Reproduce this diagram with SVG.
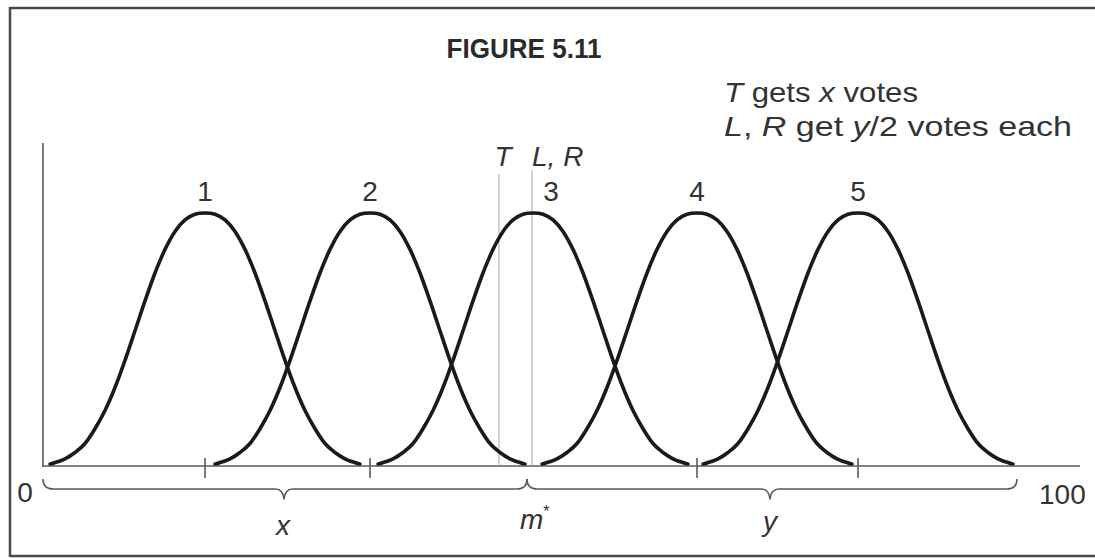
<svg xmlns="http://www.w3.org/2000/svg" xmlns:xlink="http://www.w3.org/1999/xlink" width="1095" height="559" viewBox="0 0 1095 559">
<style>
.frame{stroke:#4a4a4a;stroke-width:2.5;fill:none}
.axis{stroke:#5a5a5a;stroke-width:1.6;fill:none}
.thin{stroke:#a8a8a8;stroke-width:1;fill:none}
.bell{stroke:#1a1a1a;stroke-width:3.6;fill:none;stroke-linecap:round;stroke-linejoin:round}
.brace{stroke:#5a5a5a;stroke-width:1.6;fill:none;stroke-linejoin:round}
text{font-family:"Liberation Sans",Arial,Helvetica,sans-serif;fill:#333}
.lbl{font-size:28px;text-anchor:middle}
.note{font-size:28px}
.it{font-style:italic}
</style>
<defs>
<path id="bell" d="M -155,0 C -153.33,0 -151.67,-0.8 -150,-1.5 C -146.67,-2.2 -143.33,-3.53 -140,-5.2 C -136.67,-6.87 -133.33,-8.95 -130,-11.5 C -126.67,-14.05 -123.33,-16.53 -120,-20.5 C -116.67,-24.47 -113.33,-29.8 -110,-35.3 C -106.67,-40.8 -103.33,-46.63 -100,-53.5 C -96.67,-60.37 -93.33,-68.15 -90,-76.5 C -86.67,-84.85 -83.33,-94.15 -80,-103.6 C -76.67,-113.05 -73.33,-123.28 -70,-133.2 C -66.67,-143.12 -63.33,-153.47 -60,-163.1 C -56.67,-172.73 -53.33,-182.42 -50,-191 C -46.67,-199.58 -43.33,-207.67 -40,-214.6 C -36.67,-221.53 -33.33,-227.68 -30,-232.6 C -26.67,-237.52 -23.33,-241.23 -20,-244.1 C -16.67,-246.97 -13.33,-248.65 -10,-249.8 C -6.67,-250.95 -3.33,-251 0,-251 C 3.33,-251 6.67,-250.95 10,-249.8 C 13.33,-248.65 16.67,-246.97 20,-244.1 C 23.33,-241.23 26.67,-237.52 30,-232.6 C 33.33,-227.68 36.67,-221.53 40,-214.6 C 43.33,-207.67 46.67,-199.58 50,-191 C 53.33,-182.42 56.67,-172.73 60,-163.1 C 63.33,-153.47 66.67,-143.12 70,-133.2 C 73.33,-123.28 76.67,-113.05 80,-103.6 C 83.33,-94.15 86.67,-84.85 90,-76.5 C 93.33,-68.15 96.67,-60.37 100,-53.5 C 103.33,-46.63 106.67,-40.8 110,-35.3 C 113.33,-29.8 116.67,-24.47 120,-20.5 C 123.33,-16.53 126.67,-14.05 130,-11.5 C 133.33,-8.95 136.67,-6.87 140,-5.2 C 143.33,-3.53 146.67,-2.2 150,-1.5 C 151.67,-0.8 153.33,0 155,0"/>
</defs>

<g id="frame">
<line class="frame" x1="10" y1="8" x2="1095" y2="8"/>
<line class="frame" x1="10" y1="7" x2="10" y2="557"/>
<line class="frame" x1="10" y1="556" x2="1095" y2="556"/>
</g>

<g id="title">
<text x="524" y="58" font-size="27" font-weight="bold" text-anchor="middle" textLength="155" lengthAdjust="spacingAndGlyphs" style="fill:#2a2a2a">FIGURE 5.11</text>
<text class="note" x="724" y="102" textLength="194" lengthAdjust="spacingAndGlyphs"><tspan class="it">T</tspan> gets <tspan class="it">x</tspan> votes</text>
<text class="note" x="724" y="136" textLength="348" lengthAdjust="spacingAndGlyphs"><tspan class="it">L</tspan>, <tspan class="it">R</tspan> get <tspan class="it">y</tspan>/2 votes each</text>
</g>

<g id="axes">
<line class="axis" x1="43" y1="143" x2="43" y2="467"/>
<line class="axis" x1="42" y1="466" x2="1080" y2="466"/>
<line class="axis" x1="205" y1="458" x2="205" y2="478"/>
<line class="axis" x1="370" y1="458" x2="370" y2="478"/>
<line class="axis" x1="697" y1="458" x2="697" y2="478"/>
<line class="axis" x1="858" y1="458" x2="858" y2="478"/>
<text class="lbl" x="25" y="502">0</text>
<text x="1039" y="504" font-size="28">100</text>
</g>

<g id="positions">
<line class="thin" x1="499" y1="174" x2="499" y2="466"/>
<line class="thin" x1="532" y1="170" x2="532" y2="466"/>
<text class="lbl it" x="503" y="166">T</text>
<text class="it" x="532" y="166" font-size="28">L, R</text>
</g>

<g id="curve1">
<use xlink:href="#bell" href="#bell" class="bell" transform="translate(205,464)"/>
<text class="lbl" x="205" y="201">1</text>
</g>
<g id="curve2">
<use xlink:href="#bell" href="#bell" class="bell" transform="translate(370,464)"/>
<text class="lbl" x="370" y="201">2</text>
</g>
<g id="curve3">
<use xlink:href="#bell" href="#bell" class="bell" transform="translate(533,464)"/>
<text class="lbl" x="551" y="201">3</text>
</g>
<g id="curve4">
<use xlink:href="#bell" href="#bell" class="bell" transform="translate(697,464)"/>
<text class="lbl" x="697" y="201">4</text>
</g>
<g id="curve5">
<use xlink:href="#bell" href="#bell" class="bell" transform="translate(858,464)"/>
<text class="lbl" x="858" y="201">5</text>
</g>

<g id="connectors">
<path class="brace" d="M 43,479 Q 43,489 53,489 L 275,489 Q 283,489 284,499 Q 285,489 293,489 L 517,489 Q 527,489 527,479"/>
<path class="brace" d="M 527,479 Q 527,489 537,489 L 761,489 Q 769,489 770,499 Q 771,489 779,489 L 1007,489 Q 1017,489 1017,479"/>
</g>

<g id="brace-labels">
<text class="lbl it" x="283" y="535">x</text>
<text class="it" x="520" y="529" font-size="28">m<tspan font-size="16" dy="-12" font-style="normal">*</tspan></text>
<text class="lbl it" x="770" y="531">y</text>
</g>
</svg>
